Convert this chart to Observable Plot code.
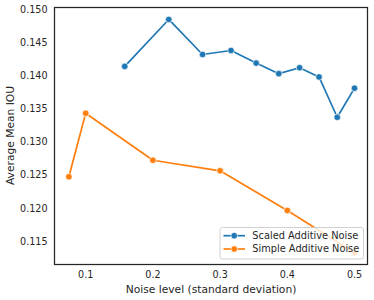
<!DOCTYPE html>
<html><head><meta charset="utf-8">
<script src="https://cdn.jsdelivr.net/npm/d3@7"></script>
<script src="https://cdn.jsdelivr.net/npm/@observablehq/plot@0.6"></script>
<style>body{margin:0;background:#fff} svg{display:block}</style>
</head><body><div id="chart"></div>
<script>
const scaledX = [0.1581, 0.2236, 0.2739, 0.3162, 0.3536, 0.3873, 0.4183, 0.4472, 0.4743, 0.5];
const scaledY = [0.1415, 0.1486, 0.1433, 0.1439, 0.1420, 0.1404, 0.1413, 0.1399, 0.1338, 0.1382];
const simpleX = [0.075, 0.1, 0.2, 0.3, 0.4, 0.5];
const simpleY = [0.1248, 0.1344, 0.1273, 0.1257, 0.1197, 0.1133];
const seriesNames = ["Scaled Additive Noise", "Simple Additive Noise"];
const colors = ["#1f77b4", "#ff7f0e"];
const xTicks = [0.1, 0.2, 0.3, 0.4, 0.5];
const yTicks = [0.115, 0.120, 0.125, 0.130, 0.135, 0.140, 0.145, 0.150];
const xLabel = "Noise level (standard deviation)";
const yLabel = "Average Mean IOU";

const scaled = scaledX.map((x, i) => ({x, y: scaledY[i], s: seriesNames[0]}));
const simple = simpleX.map((x, i) => ({x, y: simpleY[i], s: seriesNames[1]}));
const font = "DejaVu Sans, sans-serif";
const ink = "#262626";

const chart = Plot.plot({
  width: 374, height: 300,
  marginLeft: 54, marginRight: 7, marginTop: 7, marginBottom: 36,
  style: {fontFamily: font, fontSize: "9.6px", color: ink, background: "#fff"},
  x: {domain: [0.0536, 0.5193], ticks: xTicks, tickFormat: d3.format(".1f"), tickSize: 0, tickPadding: 7, label: null},
  y: {domain: [0.11152, 0.15041], ticks: yTicks, tickFormat: d3.format(".3f"), tickSize: 0, tickPadding: 7, label: null},
  color: {domain: seriesNames, range: colors},
  marks: [
    Plot.line(scaled, {x: "x", y: "y", stroke: "s", strokeWidth: 1.7}),
    Plot.line(simple, {x: "x", y: "y", stroke: "s", strokeWidth: 1.7}),
    Plot.dot(scaled, {x: "x", y: "y", fill: "s", r: 3.3, stroke: "#fff", strokeWidth: 0.7}),
    Plot.dot(simple, {x: "x", y: "y", fill: "s", r: 3.3, stroke: "#fff", strokeWidth: 0.7}),
    Plot.frame({stroke: ink, strokeWidth: 1.25})
  ]
});

const svg = d3.select(chart);
svg.append("text").attr("x", 211).attr("y", 292.5).attr("text-anchor", "middle")
  .attr("font-family", font).attr("font-size", "10.7px").attr("fill", ink).text(xLabel);
svg.append("text").attr("transform", "translate(14,135.5) rotate(-90)").attr("text-anchor", "middle")
  .attr("font-family", font).attr("font-size", "10.7px").attr("fill", ink).text(yLabel);

const lg = svg.append("g").attr("text-anchor", "start");
lg.append("rect").attr("x", 220).attr("y", 227.5).attr("width", 143.5).attr("height", 31.5).attr("rx", 2.5)
  .style("fill", "rgba(255,255,255,0.8)").style("stroke", "#cccccc").style("stroke-width", "0.9px");
seriesNames.forEach((name, i) => {
  const yy = 235.7 + i * 13.3;
  lg.append("line").attr("x1", 223.5).attr("x2", 245).attr("y1", yy).attr("y2", yy)
    .attr("stroke", colors[i]).attr("stroke-width", 1.7);
  lg.append("circle").attr("cx", 234.2).attr("cy", yy).attr("r", 3.3)
    .attr("fill", colors[i]).attr("stroke", "#fff").attr("stroke-width", 0.7);
  lg.append("text").attr("x", 252.3).attr("y", yy).attr("dy", "0.35em").attr("text-anchor", "start")
    .attr("font-family", font).attr("font-size", "9.8px").attr("fill", ink).text(name);
});

document.getElementById("chart").appendChild(chart);
</script>
</body></html>
